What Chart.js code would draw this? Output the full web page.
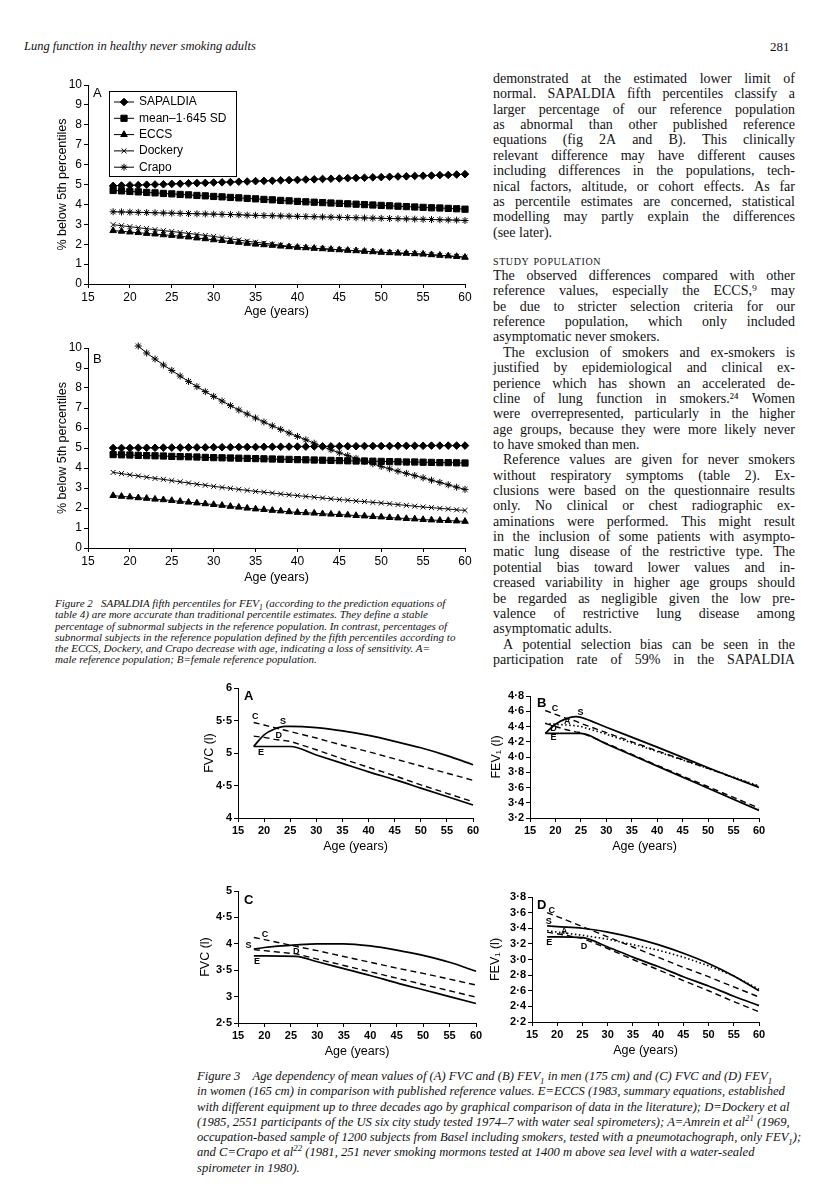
<!DOCTYPE html>
<html>
<head>
<meta charset="utf-8">
<script src="https://cdn.jsdelivr.net/npm/chart.js@4.4.1/dist/chart.umd.min.js"></script>
<style>
  html, body { margin: 0; padding: 0; background: #fff; }
  body { width: 816px; height: 1191px; position: relative; overflow: hidden;
         font-family: 'Liberation Serif', 'Times New Roman', serif; color: #111; }
  .abs { position: absolute; }
  .hdr { font-style: italic; font-size: 12.5px; }
  .col { position: absolute; left: 493px; width: 302px; font-size: 14px; }
  .row { display: flex; justify-content: space-between; height: 15.36px; line-height: 15.36px; white-space: nowrap; }
  .row.l { justify-content: flex-start; column-gap: 0.25em; }
  .row.i { padding-left: 10px; }
  .cap { position: absolute; font-style: italic; }
  .cap div { white-space: pre; }
  sub, sup { font-size: 70%; line-height: 0; }
</style>
</head>
<body>

<div class="abs hdr" style="left:24px;top:39px;">Lung function in healthy never smoking adults</div>
<div class="abs" style="left:770px;top:39px;font-size:13px;">281</div>

<div class="abs" style="left:20px;top:72px;"><canvas id="fig2a" width="460" height="252"></canvas></div>
<div class="abs" style="left:20px;top:335px;"><canvas id="fig2b" width="460" height="252"></canvas></div>

<div id="col1" class="col" style="top:71px;"></div>
<div class="abs" style="left:493px;top:253px;font-size:14px;font-variant:small-caps;letter-spacing:0.6px;">study population</div>
<div id="col2" class="col" style="top:268px;"></div>

<div class="cap" style="left:55px;top:598px;font-size:11px;line-height:11.3px;">
<div>Figure 2   SAPALDIA fifth percentiles for FEV<sub>1</sub> (according to the prediction equations of</div>
<div>table 4) are more accurate than traditional percentile estimates. They define a stable</div>
<div>percentage of subnormal subjects in the reference population. In contrast, percentages of</div>
<div>subnormal subjects in the reference population defined by the fifth percentiles according to</div>
<div>the ECCS, Dockery, and Crapo decrease with age, indicating a loss of sensitivity. A=</div>
<div>male reference population; B=female reference population.</div>
</div>

<div class="abs" style="left:190px;top:675px;"><canvas id="fig3a" width="295" height="180"></canvas></div>
<div class="abs" style="left:470px;top:683px;"><canvas id="fig3b" width="300" height="172"></canvas></div>
<div class="abs" style="left:190px;top:878px;"><canvas id="fig3c" width="295" height="182"></canvas></div>
<div class="abs" style="left:470px;top:884px;"><canvas id="fig3d" width="300" height="175"></canvas></div>

<div class="cap" style="left:197px;top:1069px;font-size:12.6px;line-height:15.3px;">
<div>Figure 3    Age dependency of mean values of (A) FVC and (B) FEV<sub>1</sub> in men (175 cm) and (C) FVC and (D) FEV<sub>1</sub></div>
<div>in women (165 cm) in comparison with published reference values. E=ECCS (1983, summary equations, established</div>
<div>with different equipment up to three decades ago by graphical comparison of data in the literature); D=Dockery et al</div>
<div>(1985, 2551 participants of the US six city study tested 1974–7 with water seal spirometers); A=Amrein et al<sup>21</sup> (1969,</div>
<div>occupation-based sample of 1200 subjects from Basel including smokers, tested with a pneumotachograph, only FEV<sub>1</sub>);</div>
<div>and C=Crapo et al<sup>22</sup> (1981, 251 never smoking mormons tested at 1400 m above sea level with a water-sealed</div>
<div>spirometer in 1980).</div>
</div>

<script>
// ---------- figure 2: % below 5th percentiles ----------
const ages = [18,19,20,21,22,23,24,25,26,27,28,29,30,31,32,33,34,35,36,37,38,39,40,
              41,42,43,44,45,46,47,48,49,50,51,52,53,54,55,56,57,58,59,60];
const yTicks2 = [0,1,2,3,4,5,6,7,8,9,10];

// A = men
const sapaldiaMen = [4.93,4.95,4.96,4.97,4.99,5.00,5.01,5.03,5.04,5.06,5.07,5.08,5.10,5.11,5.12,5.14,5.15,5.17,5.18,5.19,5.21,5.22,5.23,
                     5.25,5.26,5.28,5.29,5.30,5.32,5.33,5.34,5.36,5.37,5.39,5.40,5.41,5.43,5.44,5.45,5.47,5.48,5.50,5.52];
const meanSdMen   = [4.70,4.68,4.65,4.63,4.60,4.58,4.55,4.53,4.50,4.48,4.45,4.43,4.40,4.38,4.35,4.33,4.30,4.28,4.25,4.23,4.20,4.18,4.15,
                     4.13,4.11,4.09,4.07,4.05,4.03,4.01,3.99,3.97,3.95,3.93,3.91,3.89,3.87,3.85,3.83,3.82,3.80,3.78,3.76];
const eccsMen     = [2.68,2.65,2.61,2.58,2.54,2.51,2.47,2.44,2.40,2.36,2.31,2.27,2.22,2.18,2.13,2.09,2.04,2.00,1.97,1.94,1.90,1.87,1.84,
                     1.82,1.79,1.77,1.74,1.72,1.69,1.67,1.64,1.62,1.59,1.57,1.55,1.54,1.52,1.50,1.47,1.44,1.41,1.38,1.34];
const dockeryMen  = [2.98,2.93,2.88,2.83,2.78,2.73,2.68,2.64,2.59,2.54,2.49,2.44,2.39,2.33,2.27,2.21,2.15,2.10,2.05,2.00,1.95,1.89,1.85,
                     1.82,1.80,1.77,1.75,1.72,1.70,1.67,1.65,1.62,1.60,1.58,1.56,1.54,1.52,1.50,1.47,1.44,1.41,1.38,1.35];
const crapoMen    = [3.63,3.62,3.61,3.60,3.59,3.58,3.57,3.56,3.55,3.54,3.53,3.52,3.51,3.50,3.49,3.48,3.46,3.45,3.44,3.43,3.42,3.41,3.40,
                     3.39,3.38,3.37,3.36,3.35,3.34,3.33,3.32,3.31,3.30,3.29,3.28,3.27,3.26,3.25,3.24,3.23,3.22,3.21,3.19];

// B = women
const sapaldiaWomen = [5.00,5.00,5.00,5.01,5.01,5.01,5.02,5.02,5.02,5.03,5.03,5.03,5.04,5.04,5.04,5.05,5.05,5.05,5.06,5.06,5.06,5.07,5.07,
                       5.07,5.08,5.08,5.08,5.09,5.09,5.09,5.10,5.10,5.10,5.10,5.11,5.11,5.11,5.11,5.12,5.12,5.12,5.12,5.12];
const meanSdWomen   = [4.67,4.66,4.65,4.63,4.62,4.61,4.60,4.58,4.57,4.56,4.55,4.53,4.52,4.51,4.50,4.49,4.48,4.47,4.46,4.45,4.44,4.43,4.42,
                       4.41,4.40,4.39,4.38,4.37,4.36,4.35,4.35,4.34,4.33,4.32,4.31,4.30,4.30,4.29,4.28,4.27,4.27,4.26,4.25];
const eccsWomen     = [2.62,2.58,2.55,2.51,2.48,2.44,2.41,2.37,2.33,2.29,2.25,2.21,2.17,2.13,2.08,2.04,1.99,1.95,1.92,1.88,1.85,1.81,1.78,
                       1.76,1.74,1.71,1.69,1.67,1.65,1.62,1.60,1.57,1.55,1.52,1.50,1.47,1.45,1.42,1.40,1.38,1.37,1.35,1.33];
const dockeryWomen  = [3.78,3.72,3.66,3.60,3.54,3.48,3.43,3.37,3.31,3.25,3.19,3.14,3.08,3.03,2.98,2.93,2.88,2.83,2.79,2.75,2.70,2.66,2.62,
                       2.58,2.54,2.50,2.46,2.42,2.39,2.35,2.32,2.28,2.25,2.21,2.17,2.13,2.09,2.05,2.02,1.98,1.95,1.91,1.88];
const crapoWomen    = [null,null,null,10.10,9.75,9.45,9.15,8.88,8.60,8.33,8.07,7.82,7.58,7.35,7.12,6.90,6.70,6.50,6.30,6.11,5.93,5.75,5.58,
                       5.41,5.24,5.07,4.91,4.76,4.62,4.48,4.34,4.21,4.08,3.96,3.84,3.73,3.62,3.51,3.39,3.28,3.16,3.04,2.93];

// ---------- figure 3: mean FVC / FEV1 by age ----------
const agesFvcMen = [18,20,22,24,25,30,35,40,45,50,55,60];
const fvcMenS = [5.10,5.28,5.37,5.41,5.41,5.39,5.34,5.27,5.18,5.08,4.96,4.82];
const fvcMenE = [5.10,5.10,5.10,5.10,5.10,4.97,4.84,4.71,4.59,4.46,4.33,4.20];
const fvcMenC = [5.47,5.43,5.39,5.35,5.33,5.23,5.12,5.02,4.91,4.80,4.69,4.58];
const fvcMenD = [5.26,5.24,5.21,5.19,5.18,5.05,4.91,4.78,4.65,4.51,4.38,4.25];

const agesFevMen = [18,20,22,24,25,30,40,50,60];
const fevMenS = [4.31,4.43,4.50,4.53,4.52,4.39,4.13,3.86,3.60];
const fevMenE = [4.31,4.31,4.31,4.31,4.31,4.17,3.88,3.59,3.30];
const fevMenC = [4.61,4.56,4.51,4.47,4.44,4.32,4.08,3.85,3.61];
const fevMenA = [4.44,4.43,4.42,4.41,4.40,4.30,4.07,3.85,3.62];
const fevMenD = [4.44,4.40,4.36,4.33,4.32,4.18,3.89,3.61,3.33];

const agesFvcWomen = [18,20,26,30,35,40,45,50,55,60];
const fvcWomenS = [3.90,3.93,3.98,4.00,4.00,3.96,3.88,3.78,3.65,3.48];
const fvcWomenE = [3.77,3.77,3.76,3.66,3.53,3.40,3.26,3.13,3.00,2.87];
const fvcWomenC = [4.12,4.08,3.95,3.87,3.76,3.65,3.54,3.44,3.33,3.22];
const fvcWomenD = [3.89,3.87,3.81,3.71,3.59,3.47,3.35,3.23,3.11,2.99];

const agesFevWomen = [18,20,25,30,35,40,45,50,55,60];
const fevWomenS = [3.43,3.42,3.40,3.35,3.28,3.19,3.08,2.95,2.79,2.60];
const fevWomenC = [3.60,3.55,3.42,3.29,3.16,3.03,2.90,2.78,2.65,2.52];
const fevWomenA = [3.37,3.35,3.31,3.26,3.19,3.12,3.03,2.92,2.79,2.62];
const fevWomenE = [3.29,3.29,3.28,3.16,3.03,2.91,2.78,2.66,2.53,2.41];
const fevWomenD = [3.35,3.33,3.27,3.14,3.00,2.87,2.73,2.60,2.46,2.33];

// ---------- text of the right hand column ----------
const colLines1 = [
  ['j', 'demonstrated at the estimated lower limit of'],
  ['j', 'normal. SAPALDIA fifth percentiles classify a'],
  ['j', 'larger percentage of our reference population'],
  ['j', 'as abnormal than other published reference'],
  ['j', 'equations (fig 2A and B). This clinically'],
  ['j', 'relevant difference may have different causes'],
  ['j', 'including differences in the populations, tech-'],
  ['j', 'nical factors, altitude, or cohort effects. As far'],
  ['j', 'as percentile estimates are concerned, statistical'],
  ['j', 'modelling may partly explain the differences'],
  ['l', '(see later).']
];
const colLines2 = [
  ['j', 'The observed differences compared with other'],
  ['j', 'reference values, especially the ECCS,\u2079 may'],
  ['j', 'be due to stricter selection criteria for our'],
  ['j', 'reference population, which only included'],
  ['l', 'asymptomatic never smokers.'],
  ['j i', 'The exclusion of smokers and ex-smokers is'],
  ['j', 'justified by epidemiological and clinical ex-'],
  ['j', 'perience which has shown an accelerated de-'],
  ['j', 'cline of lung function in smokers.\u00b2\u2074 Women'],
  ['j', 'were overrepresented, particularly in the higher'],
  ['j', 'age groups, because they were more likely never'],
  ['l', 'to have smoked than men.'],
  ['j i', 'Reference values are given for never smokers'],
  ['j', 'without respiratory symptoms (table 2). Ex-'],
  ['j', 'clusions were based on the questionnaire results'],
  ['j', 'only. No clinical or chest radiographic ex-'],
  ['j', 'aminations were performed. This might result'],
  ['j', 'in the inclusion of some patients with asympto-'],
  ['j', 'matic lung disease of the restrictive type. The'],
  ['j', 'potential bias toward lower values and in-'],
  ['j', 'creased variability in higher age groups should'],
  ['j', 'be regarded as negligible given the low pre-'],
  ['j', 'valence of restrictive lung disease among'],
  ['l', 'asymptomatic adults.'],
  ['j i', 'A potential selection bias can be seen in the'],
  ['j', 'participation rate of 59% in the SAPALDIA']
];

function buildColumn(id, lines) {
  const el = document.getElementById(id);
  lines.forEach(([mode, text]) => {
    const row = document.createElement('div');
    row.className = 'row ' + mode;
    text.split(' ').forEach(w => {
      const s = document.createElement('span');
      s.textContent = w;
      row.appendChild(s);
    });
    el.appendChild(row);
  });
}
buildColumn('col1', colLines1);
buildColumn('col2', colLines2);

// ---------- charts ----------
Chart.defaults.font.family = "'Liberation Sans', Arial, sans-serif";
Chart.defaults.color = '#000';
const SANS = "'Liberation Sans', Arial, sans-serif";

function pts(xs, ys) {
  return xs.map((x, i) => ({ x: x, y: ys[i] })).filter(p => p.y !== null);
}

// panel letter + little line tags (C, S, D, E, A)
const tagPlugin = {
  id: 'tags',
  afterDatasetsDraw(chart, args, opts) {
    const ctx = chart.ctx, a = chart.chartArea;
    const xs = chart.scales.x, ys = chart.scales.y;
    ctx.save();
    ctx.fillStyle = '#000';
    ctx.textBaseline = 'middle';
    if (opts.panel) {
      ctx.font = opts.panelFont;
      ctx.textAlign = 'left';
      ctx.fillText(opts.panel, a.left + opts.dx, a.top + opts.dy);
    }
    ctx.font = 'bold 9px ' + SANS;
    ctx.textAlign = 'center';
    (opts.lineTags || []).forEach(t => {
      ctx.fillText(t[0], xs.getPixelForValue(t[1]), ys.getPixelForValue(t[2]));
    });
    ctx.restore();
  }
};

// boxed legend in the top left corner of fig 2A
const boxLegend = {
  id: 'boxLegend',
  afterDraw(chart, args, opts) {
    if (!opts.show) return;
    const ctx = chart.ctx, a = chart.chartArea;
    const x = Math.round(a.left + 21), y = Math.round(a.top + 6), w = 127, h = 85;
    ctx.save();
    ctx.fillStyle = '#fff';
    ctx.fillRect(x, y, w, h);
    ctx.strokeStyle = '#000';
    ctx.lineWidth = 1;
    ctx.strokeRect(x + 0.5, y + 0.5, w, h);
    ctx.font = '12px ' + SANS;
    ctx.textBaseline = 'middle';
    ctx.textAlign = 'left';
    chart.data.datasets.forEach((ds, i) => {
      const cy = y + 11 + i * 16.3;
      ctx.fillStyle = '#000';
      ctx.strokeStyle = '#000';
      ctx.lineWidth = 1;
      ctx.beginPath();
      ctx.moveTo(x + 5, cy);
      ctx.lineTo(x + 25, cy);
      ctx.stroke();
      Chart.helpers.drawPoint(ctx, { pointStyle: ds.pointStyle, radius: ds.pointRadius, borderWidth: 1, rotation: 0 }, x + 15, cy);
      ctx.fillText(ds.label, x + 30, cy);
    });
    ctx.restore();
  }
};

function scaleOpts(o) {
  return {
    type: 'linear',
    min: o.min, max: o.max,
    afterFit: o.fit,
    grid: { display: true, drawOnChartArea: false, drawTicks: true, tickLength: 4, color: '#000', lineWidth: 1 },
    border: { display: true, color: '#000', width: 1 },
    ticks: { stepSize: o.step, padding: o.tickPad, font: o.tickFont, color: '#000',
             autoSkip: false, maxRotation: 0, callback: o.cb },
    title: { display: true, text: o.title, font: o.titleFont, color: '#000', padding: o.titlePad }
  };
}

function markerSet(label, data, style, r) {
  return {
    label: label, data: pts(ages, data),
    borderColor: '#000', borderWidth: 1, backgroundColor: '#000',
    pointStyle: style, pointRadius: r, pointBackgroundColor: '#000',
    pointBorderColor: '#000', pointBorderWidth: 1, tension: 0, clip: false
  };
}

function pctChart(id, datasets, panel, dy, xh, titleBottom, legend) {
  return new Chart(document.getElementById(id), {
    type: 'line',
    data: { datasets: datasets },
    plugins: [tagPlugin, boxLegend],
    options: {
      responsive: false, animation: false, events: [],
      layout: { padding: { left: 0, right: 15, top: 13, bottom: 0 } },
      plugins: {
        legend: { display: false }, tooltip: { enabled: false },
        tags: { panel: panel, panelFont: '13px ' + SANS, dx: 5, dy: dy },
        boxLegend: { show: legend }
      },
      scales: {
        x: scaleOpts({ min: 15, max: 60, step: 5, fit: s => { s.height = xh; }, tickPad: 2,
                       tickFont: { size: 12 }, title: 'Age (years)', titleFont: { size: 12.5 },
                       titlePad: { top: 0, bottom: titleBottom } }),
        y: scaleOpts({ min: yTicks2[0], max: yTicks2[yTicks2.length - 1], step: 1, fit: s => { s.width = 68; },
                       tickPad: 2, tickFont: { size: 12 }, title: '% below 5th percentiles',
                       titleFont: { size: 12.5 }, titlePad: { top: 35, bottom: 0 } })
      }
    }
  });
}

pctChart('fig2a', [
  markerSet('SAPALDIA', sapaldiaMen, 'rectRot', 3.8),
  markerSet('mean\u20131\u00b7645 SD', meanSdMen, 'rect', 4.4),
  markerSet('ECCS', eccsMen, 'triangle', 3.8),
  markerSet('Dockery', dockeryMen, 'crossRot', 3.5),
  markerSet('Crapo', crapoMen, 'star', 3.5)
], 'A', 8, 40, 5, true);

pctChart('fig2b', [
  markerSet('SAPALDIA', sapaldiaWomen, 'rectRot', 3.8),
  markerSet('mean\u20131\u00b7645 SD', meanSdWomen, 'rect', 4.4),
  markerSet('ECCS', eccsWomen, 'triangle', 3.8),
  markerSet('Dockery', dockeryWomen, 'crossRot', 3.5),
  markerSet('Crapo', crapoWomen, 'star', 3.5)
], 'B', 11, 39, 2, false);

function curve(xs, ys, kind) {
  const ds = { data: pts(xs, ys), borderColor: '#000', pointRadius: 0, tension: 0, clip: false, fill: false };
  if (kind === 'solid') { ds.borderWidth = 1.7; ds.cubicInterpolationMode = 'monotone'; }
  if (kind === 'dash') { ds.borderWidth = 1.4; ds.borderDash = [6, 4]; }
  if (kind === 'dot') { ds.borderWidth = 1.6; ds.borderDash = [1.5, 2.5]; }
  return ds;
}

const dot = v => String(+v.toFixed(1)).replace('.', '\u00b7');
const dot1 = v => v.toFixed(1).replace('.', '\u00b7');

function meanChart(id, cfg) {
  return new Chart(document.getElementById(id), {
    type: 'line',
    data: { datasets: cfg.datasets },
    plugins: [tagPlugin],
    options: {
      responsive: false, animation: false, events: [],
      layout: { padding: { left: 0, right: cfg.right, top: 13, bottom: 0 } },
      plugins: {
        legend: { display: false }, tooltip: { enabled: false },
        tags: { panel: cfg.panel, panelFont: 'bold 13px ' + SANS, dx: cfg.pdx, dy: cfg.pdy, lineTags: cfg.tags }
      },
      scales: {
        x: scaleOpts({ min: 15, max: 60, step: 5, fit: s => { s.height = 37; }, tickPad: 2,
                       tickFont: { size: 11, weight: 'bold' }, title: 'Age (years)', titleFont: { size: 12.5 },
                       titlePad: { top: 0, bottom: 1 } }),
        y: scaleOpts({ min: cfg.min, max: cfg.max, step: cfg.step, fit: s => { s.width = cfg.yw; },
                       tickPad: 2, tickFont: { size: 11, weight: 'bold' }, cb: cfg.cb, title: cfg.title,
                       titleFont: { size: 12.5 }, titlePad: { top: cfg.tpad, bottom: 0 } })
      }
    }
  });
}

meanChart('fig3a', {
  panel: 'A', pdx: 6, pdy: 8, right: 12, yw: 48, tpad: 12, min: 4, max: 6, step: 0.5, cb: dot, title: 'FVC (l)',
  datasets: [
    curve(agesFvcMen, fvcMenS, 'solid'), curve(agesFvcMen, fvcMenE, 'solid'),
    curve(agesFvcMen, fvcMenC, 'dash'), curve(agesFvcMen, fvcMenD, 'dash')
  ],
  tags: [['C', 18.3, 5.56], ['S', 23.6, 5.48], ['D', 22.8, 5.27], ['E', 19.4, 5.01]]
});

meanChart('fig3b', {
  panel: 'B', pdx: 7, pdy: 7, right: 11, yw: 60, tpad: 19, min: 3.2, max: 4.8, step: 0.2, cb: dot1, title: 'FEV\u2081 (l)',
  datasets: [
    curve(agesFevMen, fevMenS, 'solid'), curve(agesFevMen, fevMenE, 'solid'),
    curve(agesFevMen, fevMenC, 'dash'), curve(agesFevMen, fevMenA, 'dot'), curve(agesFevMen, fevMenD, 'dash')
  ],
  tags: [['C', 19.9, 4.64], ['S', 24.9, 4.58], ['A', 22.3, 4.46], ['D', 19.6, 4.37], ['E', 19.6, 4.26]]
});

meanChart('fig3c', {
  panel: 'C', pdx: 6, pdy: 9, right: 9, yw: 48, tpad: 8, min: 2.5, max: 5, step: 0.5, cb: dot, title: 'FVC (l)',
  datasets: [
    curve(agesFvcWomen, fvcWomenS, 'solid'), curve(agesFvcWomen, fvcWomenE, 'solid'),
    curve(agesFvcWomen, fvcWomenC, 'dash'), curve(agesFvcWomen, fvcWomenD, 'dash')
  ],
  tags: [['C', 20.1, 4.18], ['S', 17.0, 3.96], ['D', 26.0, 3.86], ['E', 18.6, 3.66]]
});

meanChart('fig3d', {
  panel: 'D', pdx: 5, pdy: 8, right: 11, yw: 62, tpad: 18, min: 2.2, max: 3.8, step: 0.2, cb: dot1, title: 'FEV\u2081 (l)',
  datasets: [
    curve(agesFevWomen, fevWomenS, 'solid'), curve(agesFevWomen, fevWomenC, 'dash'),
    curve(agesFevWomen, fevWomenA, 'dot'), curve(agesFevWomen, fevWomenE, 'solid'),
    curve(agesFevWomen, fevWomenD, 'dash')
  ],
  tags: [['C', 18.9, 3.63], ['S', 18.3, 3.49], ['A', 21.4, 3.36], ['E', 18.4, 3.22], ['D', 25.3, 3.17]]
});
</script>
</body>
</html>
